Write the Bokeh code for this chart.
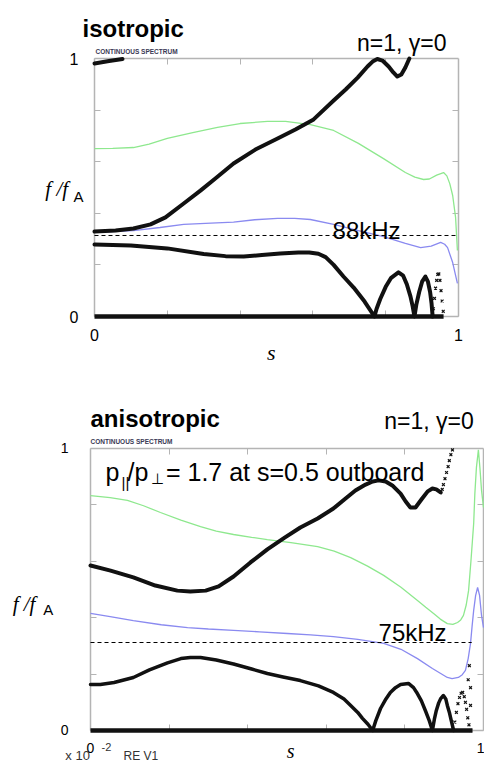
from bokeh.plotting import figure
from bokeh.models import Label, FixedTicker, LinearAxis, Range1d
from bokeh.layouts import column
from bokeh.embed import file_html
from bokeh.resources import INLINE

# ---------------- data: isotropic panel ----------------
iso_upper_s = [0.0, 0.058, 0.107, 0.154, 0.195, 0.245, 0.291, 0.332, 0.382, 0.442, 0.503, 0.552, 0.602, 0.657, 0.690, 0.723, 0.750, 0.764, 0.777, 0.791, 0.808, 0.821, 0.832, 0.843, 0.854, 0.865]
iso_upper_f = [0.329, 0.333, 0.341, 0.357, 0.384, 0.438, 0.488, 0.535, 0.593, 0.647, 0.690, 0.725, 0.764, 0.837, 0.880, 0.926, 0.969, 0.988, 0.998, 0.992, 0.969, 0.946, 0.930, 0.938, 0.965, 1.0]
iso_top_s = [0.0, 0.04, 0.077]
iso_top_f = [0.981, 0.99, 0.998]
iso_green_s = [0.0, 0.05, 0.107, 0.15, 0.2, 0.27, 0.338, 0.40, 0.475, 0.525, 0.593, 0.657, 0.725, 0.794, 0.854, 0.88, 0.904, 0.92, 0.94, 0.959, 0.968, 0.976, 0.984, 0.992, 0.997]
iso_green_f = [0.651, 0.652, 0.655, 0.668, 0.690, 0.713, 0.733, 0.748, 0.756, 0.756, 0.744, 0.721, 0.671, 0.612, 0.558, 0.540, 0.531, 0.533, 0.548, 0.558, 0.545, 0.515, 0.469, 0.384, 0.256]
iso_blue_s = [0.0, 0.107, 0.18, 0.245, 0.32, 0.382, 0.44, 0.503, 0.55, 0.593, 0.657, 0.725, 0.794, 0.854, 0.896, 0.925, 0.951, 0.962, 0.970, 0.984, 0.997]
iso_blue_f = [0.326, 0.333, 0.345, 0.357, 0.362, 0.366, 0.375, 0.380, 0.380, 0.376, 0.357, 0.333, 0.310, 0.283, 0.267, 0.273, 0.287, 0.280, 0.267, 0.209, 0.128]
iso_lower_s = [0.0, 0.1, 0.2, 0.3, 0.36, 0.41, 0.46, 0.51, 0.56, 0.59, 0.615, 0.635, 0.657, 0.684, 0.712, 0.742, 0.769,
               0.775, 0.785, 0.80, 0.815, 0.835, 0.848, 0.858, 0.868, 0.874, 0.879,
               0.884, 0.892, 0.900, 0.909, 0.916, 0.922, 0.926, 0.929]
iso_lower_f = [0.279, 0.275, 0.264, 0.242, 0.234, 0.233, 0.238, 0.244, 0.248, 0.248, 0.243, 0.230, 0.200, 0.155, 0.112, 0.058, 0.0,
               0.030, 0.068, 0.115, 0.150, 0.171, 0.158, 0.125, 0.078, 0.040, 0.0,
               0.045, 0.095, 0.135, 0.155, 0.135, 0.095, 0.050, 0.0]
iso_dots_s = [0.931, 0.934, 0.937, 0.940, 0.943, 0.946, 0.949, 0.952, 0.955, 0.958]
iso_dots_f = [0.03, 0.07, 0.11, 0.14, 0.163, 0.165, 0.14, 0.10, 0.06, 0.02]
iso_zero_s = [0.0, 0.959]
iso_zero_f = [0.0, 0.0]
iso_dash_s = [0.0, 1.0]
iso_dash_f = [0.314, 0.314]

# ---------------- data: anisotropic panel ----------------
ani_upper_s = [0.0, 0.051, 0.109, 0.165, 0.221, 0.254, 0.293, 0.326, 0.364, 0.407, 0.450, 0.494, 0.534, 0.578, 0.618, 0.649, 0.674, 0.700, 0.718, 0.733, 0.751, 0.768, 0.789, 0.802, 0.814, 0.827, 0.842, 0.858, 0.870, 0.880, 0.891]
ani_upper_f = [0.585, 0.567, 0.543, 0.514, 0.496, 0.493, 0.496, 0.511, 0.546, 0.596, 0.642, 0.684, 0.720, 0.752, 0.787, 0.823, 0.851, 0.872, 0.883, 0.887, 0.883, 0.869, 0.840, 0.812, 0.791, 0.791, 0.819, 0.848, 0.858, 0.855, 0.844]
ani_updots_s = [0.895, 0.898, 0.902, 0.906, 0.910, 0.913, 0.917, 0.921]
ani_updots_f = [0.855, 0.872, 0.893, 0.915, 0.936, 0.957, 0.978, 0.995]
ani_green_s = [0.0, 0.05, 0.094, 0.135, 0.178, 0.23, 0.280, 0.32, 0.364, 0.41, 0.450, 0.51, 0.578, 0.62, 0.662, 0.705, 0.746, 0.79, 0.832, 0.853, 0.873, 0.89, 0.908, 0.922, 0.934, 0.942, 0.949, 0.956, 0.962, 0.968, 0.975, 0.978, 0.982, 0.987, 0.991, 0.995, 1.0]
ani_green_f = [0.833, 0.826, 0.816, 0.797, 0.773, 0.746, 0.723, 0.707, 0.695, 0.685, 0.677, 0.666, 0.652, 0.636, 0.613, 0.583, 0.550, 0.508, 0.461, 0.437, 0.415, 0.395, 0.379, 0.376, 0.383, 0.392, 0.408, 0.445, 0.496, 0.600, 0.734, 0.840, 0.933, 0.995, 0.930, 0.851, 0.791]
ani_blue_s = [0.0, 0.05, 0.109, 0.18, 0.247, 0.30, 0.364, 0.43, 0.501, 0.56, 0.618, 0.68, 0.746, 0.79, 0.832, 0.87, 0.908, 0.92, 0.936, 0.946, 0.954, 0.961, 0.967, 0.971, 0.975, 0.980, 0.985, 0.990, 0.995, 1.0]
ani_blue_f = [0.415, 0.404, 0.390, 0.375, 0.365, 0.360, 0.355, 0.350, 0.344, 0.339, 0.333, 0.323, 0.309, 0.288, 0.255, 0.220, 0.188, 0.184, 0.188, 0.198, 0.213, 0.255, 0.309, 0.370, 0.426, 0.479, 0.507, 0.479, 0.408, 0.365]
ani_lower_s = [0.0, 0.025, 0.06, 0.109, 0.15, 0.196, 0.23, 0.254, 0.280, 0.32, 0.364, 0.41, 0.450, 0.49, 0.534, 0.58, 0.618, 0.645, 0.662, 0.68, 0.692, 0.706, 0.718,
               0.726, 0.738, 0.75, 0.763, 0.776, 0.789, 0.809, 0.822, 0.830, 0.842, 0.852, 0.862, 0.870,
               0.875, 0.880, 0.886, 0.891, 0.898, 0.904, 0.908, 0.913, 0.918, 0.924]
ani_lower_f = [0.163, 0.163, 0.170, 0.188, 0.215, 0.240, 0.255, 0.259, 0.259, 0.250, 0.236, 0.218, 0.202, 0.190, 0.177, 0.158, 0.135, 0.112, 0.089, 0.064, 0.043, 0.022, 0.0,
               0.035, 0.078, 0.108, 0.135, 0.152, 0.163, 0.167, 0.152, 0.135, 0.105, 0.071, 0.035, 0.0,
               0.040, 0.071, 0.098, 0.113, 0.124, 0.112, 0.089, 0.065, 0.035, 0.0]
ani_dots_s = [0.927, 0.931, 0.935, 0.939, 0.943, 0.947, 0.951, 0.954, 0.957, 0.960, 0.963, 0.967, 0.964, 0.967, 0.967, 0.961]
ani_dots_f = [0.03, 0.064, 0.095, 0.117, 0.132, 0.135, 0.12, 0.10, 0.075, 0.045, 0.02, 0.0, 0.230, 0.152, 0.089, 0.18]
ani_zero_s = [0.0, 0.972]
ani_zero_f = [0.0, 0.0]
ani_dash_s = [0.0, 0.97]
ani_dash_f = [0.312, 0.312]

tick_major = [0, 1]
tick_minor = [0.2, 0.4, 0.6, 0.8]

SANS = "Liberation Sans"
SERIF = "Liberation Serif"
GREY = "#b4b4b4"
GREEN = "#8ee88e"
BLUE = "#8a8af0"
BLACK = "#111111"


def make_panel(width, height, xr, yr, lab_size, y_standoff, x_standoff):
    # the plotting frame fills the whole canvas; the s/f box is drawn by axes
    # fixed at s=0, s=1, f=0, f=1 so that every text stays inside the frame
    p = figure(width=width, height=height, x_range=Range1d(*xr), y_range=Range1d(*yr),
               output_backend="svg", toolbar_location=None, min_border=0,
               x_axis_type=None, y_axis_type=None)
    p.xgrid.visible = False
    p.ygrid.visible = False
    p.outline_line_color = None
    p.background_fill_color = "white"
    p.border_fill_color = "white"
    specs = [("left", 0, True, y_standoff), ("below", 0, True, x_standoff),
             ("right", 1, False, 0), ("above", 1, False, 0)]
    for side, loc, labelled, standoff in specs:
        ticker = FixedTicker(ticks=tick_major if labelled else [], minor_ticks=tick_minor)
        ax = LinearAxis(ticker=ticker, fixed_location=loc, bounds=(0, 1), level="underlay",
                        axis_line_color=GREY, axis_line_width=1.5,
                        major_tick_in=6, major_tick_out=0, minor_tick_in=6, minor_tick_out=0,
                        major_tick_line_color=GREY, minor_tick_line_color=GREY,
                        major_label_text_font=SANS, major_label_text_font_size=lab_size,
                        major_label_text_color="black", major_label_standoff=standoff)
        p.add_layout(ax, side)
    return p


def txt(p, x, y, text, size, font=SANS, style="normal", align="left", color="black",
        baseline="alphabetic"):
    p.add_layout(Label(x=x, y=y, text=text, text_font=font, text_font_size=size,
                       text_font_style=style, text_align=align, text_baseline=baseline,
                       text_color=color))


# ---------------- top panel ----------------
p1 = make_panel(484, 380, (-0.25824, 1.07143), (-0.24806, 1.22481), "16px", 16, 12)
p1.line(iso_green_s, iso_green_f, line_color=GREEN, line_width=1.3)
p1.line(iso_blue_s, iso_blue_f, line_color=BLUE, line_width=1.3)
p1.line(iso_dash_s, iso_dash_f, line_color="black", line_width=1, line_dash="4 3")
p1.line(iso_upper_s, iso_upper_f, line_color=BLACK, line_width=4, line_join="round", line_cap="round")
p1.line(iso_top_s, iso_top_f, line_color=BLACK, line_width=4, line_cap="round")
p1.line(iso_lower_s, iso_lower_f, line_color=BLACK, line_width=4, line_join="round", line_cap="round")
p1.scatter(iso_dots_s, iso_dots_f, marker="x", size=4, line_color=BLACK, line_width=1.2)
p1.line(iso_zero_s, iso_zero_f, line_color=BLACK, line_width=4.5)

txt(p1, 0.654, 0.333, "88kHz", "24px")
txt(p1, -0.033, 1.116, "isotropic", "24px", style="bold")
txt(p1, 0.967, 1.062, "n=1, \u03b3=0", "23px", align="right")
txt(p1, 0.003, 1.027, "CONTINUOUS SPECTRUM", "6.5px", color="#3a3a55", baseline="middle", style="bold")
txt(p1, -0.135, 0.496, "f /f", "21px", font=SERIF, style="italic")
txt(p1, -0.058, 0.465, "A", "15px")
txt(p1, 0.486, -0.14, "s", "22px", font=SERIF, style="italic", align="center")

# ---------------- bottom panel ----------------
p2 = make_panel(484, 386, (-0.22901, 1.002545), (-0.12766, 1.24113), "14px", 22, 13)
p2.line(ani_green_s, ani_green_f, line_color=GREEN, line_width=1.3)
p2.line(ani_blue_s, ani_blue_f, line_color=BLUE, line_width=1.3)
p2.line(ani_dash_s, ani_dash_f, line_color="black", line_width=1, line_dash="4 3")
p2.line(ani_upper_s, ani_upper_f, line_color=BLACK, line_width=4, line_join="round", line_cap="round")
p2.scatter(ani_updots_s, ani_updots_f, marker="x", size=4, line_color=BLACK, line_width=1.2)
p2.line(ani_lower_s, ani_lower_f, line_color=BLACK, line_width=3.5, line_join="round", line_cap="round")
p2.scatter(ani_dots_s, ani_dots_f, marker="x", size=4, line_color=BLACK, line_width=1.2)
p2.line(ani_zero_s, ani_zero_f, line_color=BLACK, line_width=4.5)

txt(p2, 0.038, 0.915, "p", "25px")
txt(p2, 0.079, 0.879, "||", "15px")
txt(p2, 0.094, 0.915, "/p", "25px")
txt(p2, 0.154, 0.894, "\u22a5", "15px")
txt(p2, 0.192, 0.915, " = 1.7 at s=0.5 outboard", "25px")
txt(p2, 0.733, 0.348, "75kHz", "24px")
txt(p2, 0.0, 1.106, "anisotropic", "24px", style="bold")
txt(p2, 0.975, 1.099, "n=1, \u03b3=0", "23px", align="right")
txt(p2, 0.0, 1.025, "CONTINUOUS SPECTRUM", "6.5px", color="#3a3a55", baseline="middle", style="bold")
txt(p2, -0.198, 0.45, "f /f", "21px", font=SERIF, style="italic")
txt(p2, -0.12, 0.429, "A", "15px")
txt(p2, 0.509, -0.074, "s", "20px", font=SERIF, style="italic", align="center")
txt(p2, -0.064, -0.090, "x 10", "13px", color="#333333")
txt(p2, 0.028, -0.060, "-2", "11px", color="#333333")
txt(p2, 0.084, -0.092, "RE  V1", "12px", color="#333333")

layout = column(p1, p2)
open("out.html", "w").write(file_html(layout, INLINE))
